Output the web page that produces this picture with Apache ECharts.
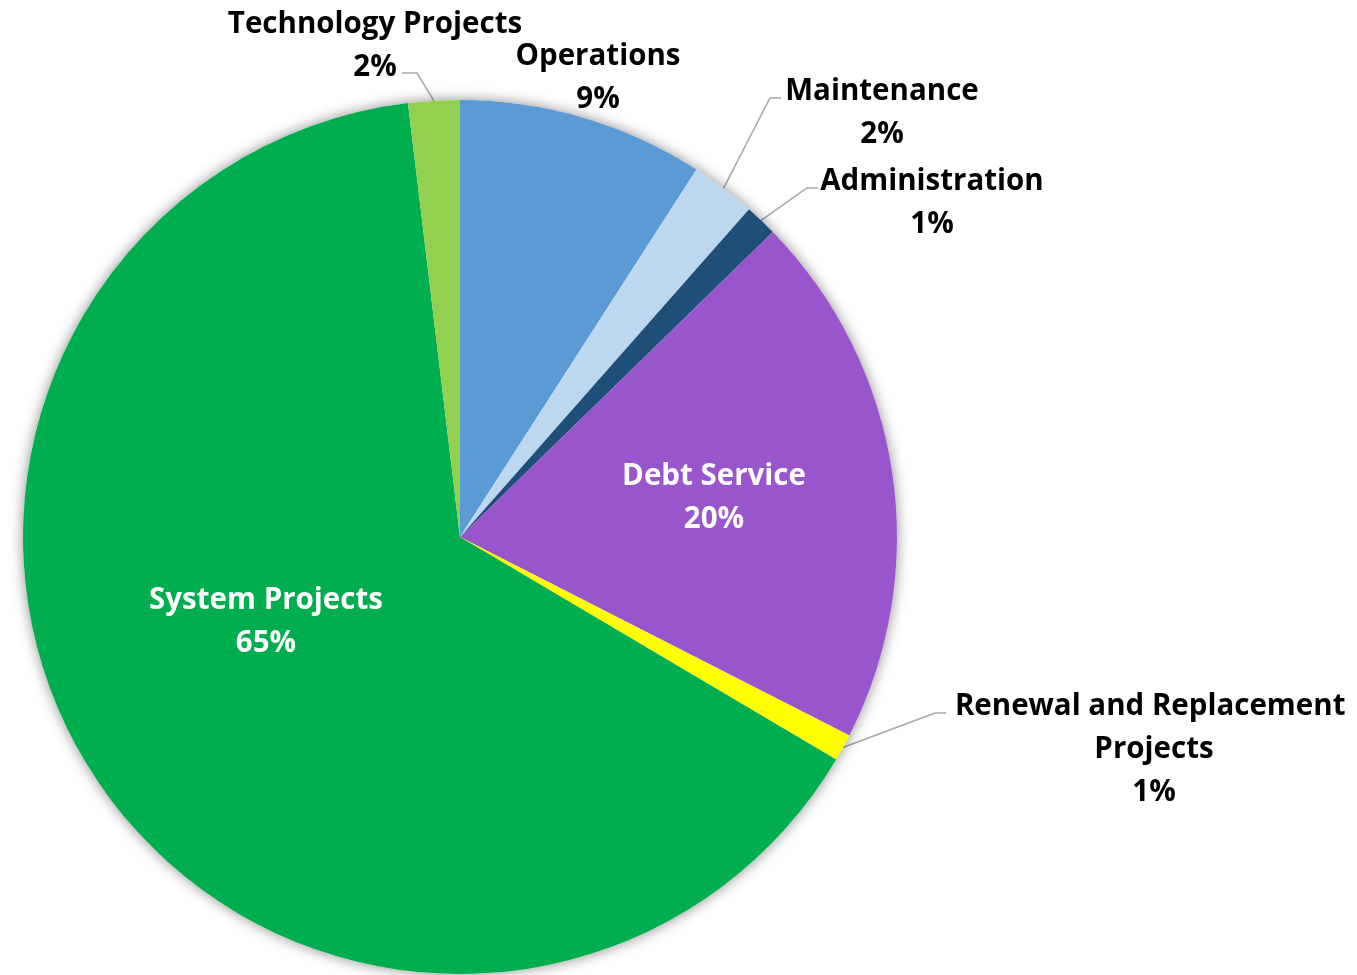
<!DOCTYPE html>
<html>
<head>
<meta charset="utf-8">
<script src="https://cdn.jsdelivr.net/npm/echarts@6/dist/echarts.min.js"></script>
<style>
  html, body { margin: 0; padding: 0; background: #ffffff; }
  #chart { width: 1357px; height: 975px; }
</style>
</head>
<body>
<div id="chart"></div>
<script>
// Budget allocation by category (percent of total)
const categories = [
  'Operations',
  'Maintenance',
  'Administration',
  'Debt Service',
  'Renewal and Replacement Projects',
  'System Projects',
  'Technology Projects'
];
const shares = [9.1, 2.4, 1.2, 19.8, 1.0, 64.6, 1.9];
const sliceColors = ['#5B9BD5', '#BDD7EE', '#1F4E79', '#9955CB', '#FFFF00', '#00AE4F', '#92D050'];

// Label placement: centre of each label block, plus leader-line elbow/end (absolute px)
const labelSpots = {
  'Operations':                      { x: 598,  y: 78 },
  'Maintenance':                     { x: 882,  y: 113, line: [[770, 98], [781, 98]] },
  'Administration':                  { x: 932,  y: 203, line: [[807, 188], [818, 188]] },
  'Debt Service':                    { x: 714,  y: 498 },
  'Renewal and Replacement Projects':{ x: 1154, y: 750, line: [[935, 713], [946, 713]] },
  'System Projects':                 { x: 266,  y: 622 },
  'Technology Projects':             { x: 375,  y: 46,  line: [[417, 73], [402, 73]] }
};
const insideLabels = ['Debt Service', 'System Projects'];

const FONT = 'Open Sans';
const chart = echarts.init(document.getElementById('chart'), null, { renderer: 'canvas' });

const pieCenter = [460, 537];
const pieRadius = 437;

const seriesData = categories.map((name, i) => {
  const inside = insideLabels.indexOf(name) >= 0;
  const item = {
    name: name,
    value: shares[i],
    itemStyle: { color: sliceColors[i] },
    label: {
      position: inside ? 'inside' : 'outside',
      color: inside ? '#ffffff' : '#000000'
    },
    labelLine: { show: !!labelSpots[name].line }
  };
  if (name === 'Renewal and Replacement Projects') {
    item.label.width = 440;
    item.label.overflow = 'break';
  }
  return item;
});

chart.setOption({
  backgroundColor: '#ffffff',
  animation: false,
  series: [
    {
      // soft drop shadow under the whole pie
      type: 'pie',
      silent: true,
      center: pieCenter,
      radius: pieRadius,
      label: { show: false },
      labelLine: { show: false },
      itemStyle: {
        color: '#ffffff',
        shadowBlur: 14,
        shadowColor: 'rgba(0,0,0,0.45)'
      },
      data: [{ value: 1, name: '' }]
    },
    {
      type: 'pie',
      center: pieCenter,
      radius: pieRadius,
      startAngle: 90,
      clockwise: true,
      avoidLabelOverlap: false,
      itemStyle: { borderWidth: 0 },
      label: {
        show: true,
        fontFamily: FONT,
        fontWeight: 'bold',
        fontSize: 29.5,
        lineHeight: 43,
        align: 'center',
        formatter: p => p.name + '\n' + Math.round(p.percent) + '%'
      },
      labelLine: {
        show: true,
        lineStyle: { color: '#A6A6A6', width: 1.5 }
      },
      labelLayout: function (params) {
        const name = categories[params.dataIndex];
        const spot = labelSpots[name];
        const out = { x: spot.x, y: spot.y, align: 'center', verticalAlign: 'middle' };
        if (spot.line && params.labelLinePoints) {
          out.labelLinePoints = [params.labelLinePoints[0], spot.line[0], spot.line[1]];
        }
        return out;
      },
      data: seriesData
    }
  ]
});
</script>
</body>
</html>
